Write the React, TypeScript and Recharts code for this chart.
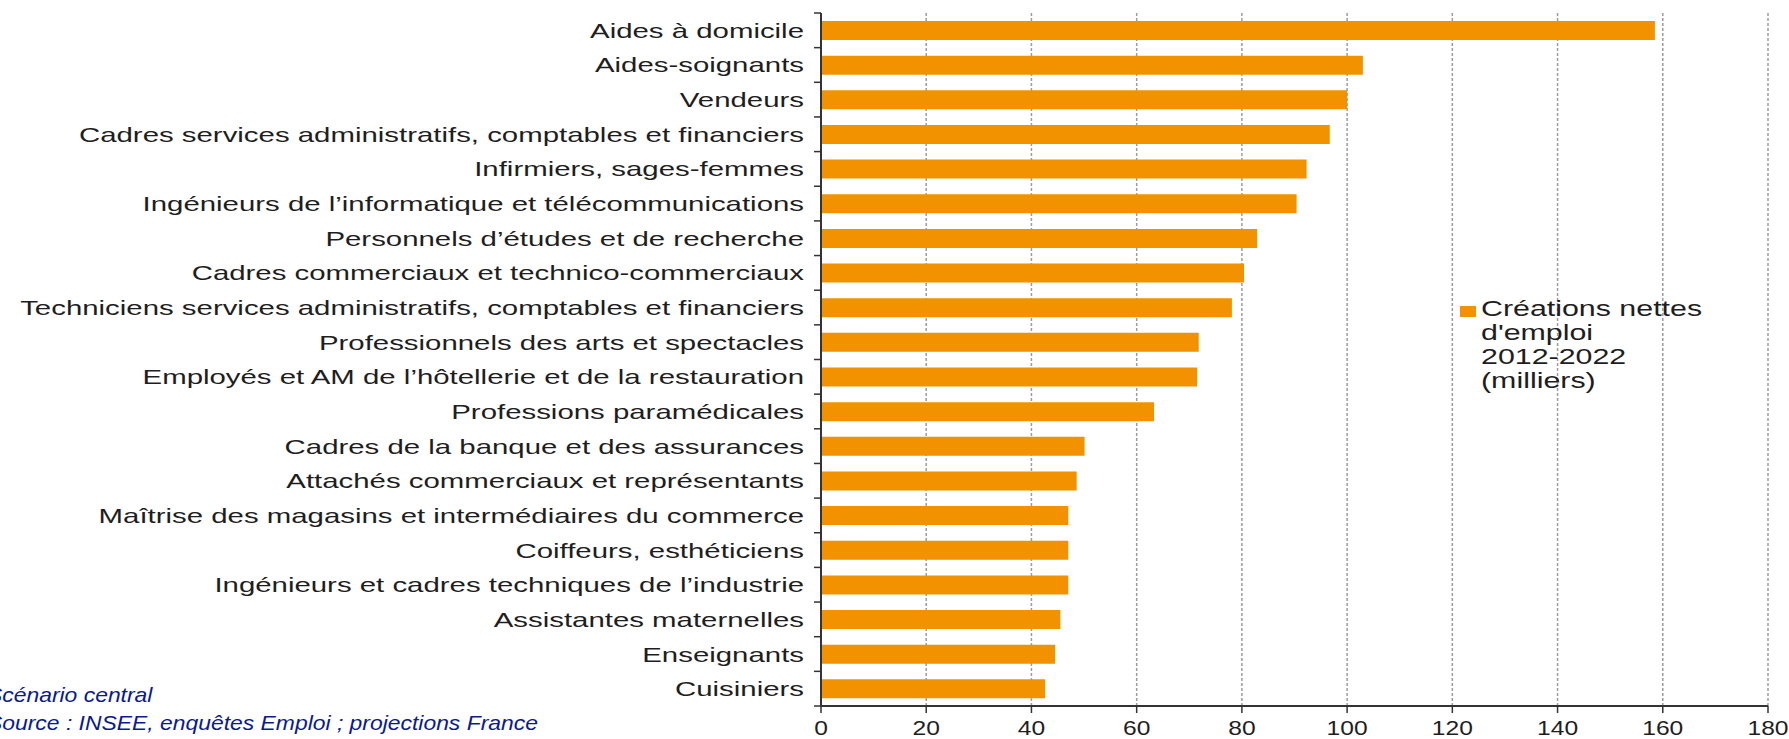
import React from 'react'
import { BarChart, Bar, XAxis, YAxis, CartesianGrid, Legend } from 'recharts'

const categories = [
  'Aides à domicile',
  'Aides-soignants',
  'Vendeurs',
  'Cadres services administratifs, comptables et financiers',
  'Infirmiers, sages-femmes',
  'Ingénieurs de l’informatique et télécommunications',
  'Personnels d’études et de recherche',
  'Cadres commerciaux et technico-commerciaux',
  'Techniciens services administratifs, comptables et financiers',
  'Professionnels des arts et spectacles',
  'Employés et AM de l’hôtellerie et de la restauration',
  'Professions paramédicales',
  'Cadres de la banque et des assurances',
  'Attachés commerciaux et représentants',
  'Maîtrise des magasins et intermédiaires du commerce',
  'Coiffeurs, esthéticiens',
  'Ingénieurs et cadres techniques de l’industrie',
  'Assistantes maternelles',
  'Enseignants',
  'Cuisiniers',
]

const creations = [158.5, 103, 100, 96.7, 92.3, 90.4, 82.9, 80.4, 78.1, 71.8, 71.5, 63.3, 50.1, 48.6, 47, 47, 47, 45.5, 44.5, 42.6]

const xTicks = [0, 20, 40, 60, 80, 100, 120, 140, 160, 180]

const legendLines = ['Créations nettes', "d'emploi", '2012-2022', '(milliers)']
const notes = ['Scénario central', 'Source : INSEE, enquêtes Emploi ; projections France']

const data = categories.map((name, i) => ({ name, value: creations[i] }))

const W = 1789
const H = 739
const MARGIN = { top: 13, right: 21, bottom: 3, left: 0 }
const X_AXIS_H = 30
const BAND = (H - MARGIN.top - MARGIN.bottom - X_AXIS_H) / categories.length
const FONT = '"Liberation Sans", Arial, sans-serif'
const ORANGE = '#F39200'
const AXIS = '#333333'

const CategoryTick = (props: any) => {
  const { x, y, payload, index } = props
  const ax = x + 17
  return (
    <g>
      <line x1={ax - 7} x2={ax} y1={y - BAND / 2} y2={y - BAND / 2} stroke={AXIS} strokeWidth={1.5} />
      {index === categories.length - 1 && (
        <line x1={ax - 7} x2={ax} y1={y + BAND / 2} y2={y + BAND / 2} stroke={AXIS} strokeWidth={1.5} />
      )}
      <text
        transform={`translate(${x},${y + 7.5}) scale(1.4,1)`}
        textAnchor="end"
        fontFamily={FONT}
        fontSize={21}
        fill="#1e1e1e"
      >
        {payload.value}
      </text>
    </g>
  )
}

const ValueTick = (props: any) => {
  const { x, y, payload } = props
  return (
    <text
      transform={`translate(${x},${y + 20}) scale(1.23,1)`}
      textAnchor="middle"
      fontFamily={FONT}
      fontSize={20}
      fill="#1e1e1e"
    >
      {payload.value}
    </text>
  )
}

const LegendBox = () => (
  <div style={{ position: 'relative', fontFamily: FONT, fontSize: 22, lineHeight: '24px', color: '#1e1e1e' }}>
    <div style={{ position: 'absolute', left: 0, top: 9.5, width: 16, height: 11, background: ORANGE }} />
    <div style={{ marginLeft: 21 }}>
      {legendLines.map((l) => (
        <div key={l} style={{ transform: 'scaleX(1.38)', transformOrigin: 'left', whiteSpace: 'nowrap' }}>
          {l}
        </div>
      ))}
    </div>
  </div>
)

export default function App() {
  return (
    <div style={{ position: 'absolute', left: 0, top: 0, width: W, height: H, background: '#fff', overflow: 'hidden' }}>
      <BarChart width={W} height={H} data={data} layout="vertical" margin={MARGIN}>
        <CartesianGrid horizontal={false} stroke="#9c9c9c" strokeDasharray="3 2" strokeWidth={1.5} />
        <XAxis
          type="number"
          domain={[0, 180]}
          ticks={xTicks}
          height={X_AXIS_H}
          axisLine={{ stroke: AXIS, strokeWidth: 2 }}
          tickLine={{ stroke: AXIS, strokeWidth: 1.5 }}
          tickSize={7}
          tickMargin={2}
          tick={<ValueTick />}
        />
        <XAxis
          xAxisId="top"
          orientation="top"
          type="number"
          domain={[0, 180]}
          height={0}
          tick={false}
          tickLine={false}
          axisLine={{ stroke: '#c4c4c4', strokeWidth: 1.5 }}
        />
        <YAxis
          type="category"
          dataKey="name"
          width={821}
          interval={0}
          axisLine={{ stroke: AXIS, strokeWidth: 2 }}
          tickLine={false}
          tickSize={7}
          tickMargin={10}
          tick={<CategoryTick />}
        />
        <Legend
          layout="horizontal"
          verticalAlign="middle"
          content={<LegendBox />}
          wrapperStyle={{ left: 1460, top: 296.5, width: 300 }}
        />
        <Bar dataKey="value" fill={ORANGE} barSize={19} isAnimationActive={false} />
      </BarChart>
      <div
        style={{
          position: 'absolute',
          left: -13,
          top: 680.7,
          fontFamily: FONT,
          fontStyle: 'italic',
          fontSize: 21,
          lineHeight: '28px',
          color: '#0b1a8c',
          transform: 'scaleX(1.09)',
          transformOrigin: 'left',
          whiteSpace: 'nowrap',
        }}
      >
        {notes.map((n) => (
          <div key={n}>{n}</div>
        ))}
      </div>
    </div>
  )
}
